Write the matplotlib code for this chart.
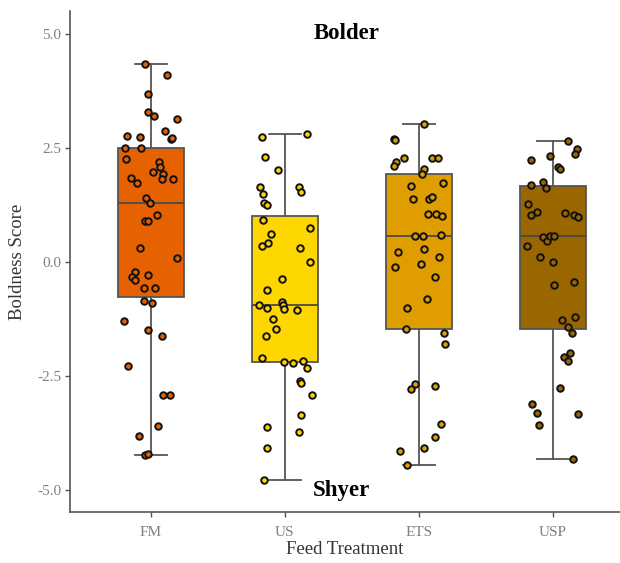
import matplotlib
matplotlib.use("Agg")
import matplotlib.pyplot as plt
import numpy as np

# feed treatments and colours
groups = ["FM", "US", "ETS", "USP"]
colors = ["#E66100", "#FFD700", "#DF9D00", "#996600"]

# box statistics (q1, median, q3, lower / upper whisker)
q1 = [-0.78, -2.21, -1.48, -1.48]
med = [1.29, -0.96, 0.57, 0.55]
q3 = [2.50, 1.01, 1.93, 1.65]
whis_lo = [-4.25, -4.78, -4.47, -4.33]
whis_hi = [4.34, 2.79, 3.02, 2.65]

# individual boldness scores + horizontal jitter as seen in the figure
fm = [4.34, 4.09, 3.68, 3.29, 3.19, 3.12, 2.87, 2.75, 2.74, 2.69, 2.70, 2.50,
      2.50, 2.26, 2.19, 2.07, 1.96, 1.92, 1.81, 1.81, 1.84, 1.73, 1.40, 1.29,
      1.03, 0.88, 0.88, 0.29, 0.07, -0.22, -0.33, -0.29, -0.40, -0.58, -0.59,
      -0.86, -0.90, -1.31, -1.51, -1.64, -2.29, -2.93, -2.93, -3.61, -3.82,
      -4.25, -4.22]
fm_jit = [-0.044, 0.118, -0.021, -0.024, 0.024, 0.195, 0.106, -0.177, -0.077,
          0.147, 0.159, -0.189, -0.071, -0.186, 0.059, 0.071, 0.018, 0.088,
          0.080, 0.165, -0.148, -0.100, -0.038, -0.009, 0.047, -0.044, -0.021,
          -0.083, 0.192, -0.118, -0.139, -0.021, -0.115, -0.050, 0.032,
          -0.050, 0.012, -0.201, -0.024, 0.086, -0.168, 0.088, 0.142, 0.050,
          -0.088, -0.041, -0.021]

us = [2.79, 2.74, 2.30, 2.00, 1.63, 1.64, 1.48, 1.53, 1.28, 1.25, 0.91, 0.74,
      0.60, 0.41, 0.35, 0.30, 0.00, -0.39, -0.62, -0.96, -1.01, -0.89, -0.96,
      -1.04, -1.07, -1.27, -1.47, -1.64, -2.12, -2.21, -2.22, -2.17, -2.34,
      -2.61, -2.67, -2.93, -3.36, -3.62, -3.74, -4.08, -4.78]
us_jit = [0.165, -0.174, -0.147, -0.053, -0.189, 0.106, -0.162, 0.118, -0.153,
          -0.133, -0.165, 0.186, -0.106, -0.127, -0.174, 0.112, 0.189, -0.018,
          -0.136, -0.192, -0.130, -0.018, -0.012, -0.006, 0.091, -0.091,
          -0.068, -0.142, -0.174, -0.006, 0.059, 0.136, 0.168, 0.115, 0.124,
          0.201, 0.118, -0.133, 0.109, -0.136, -0.159]

ets = [3.02, 2.68, 2.67, 2.27, 2.27, 2.28, 2.18, 2.09, 2.02, 1.91, 1.65, 1.72,
       1.38, 1.37, 1.42, 1.05, 1.05, 1.01, 0.57, 0.55, 0.58, 0.22, 0.27, 0.09,
       -0.11, -0.05, -0.33, -0.82, -1.01, -1.47, -1.57, -1.81, -2.69, -2.80,
       -2.72, -3.56, -3.84, -4.08, -4.16, -4.47]
ets_jit = [0.040, -0.184, -0.175, -0.110, 0.095, 0.140, -0.172, -0.184, 0.040,
           0.025, -0.062, 0.181, -0.043, 0.072, 0.095, 0.065, 0.127, 0.169,
           -0.032, 0.032, 0.164, -0.154, 0.040, 0.147, -0.177, 0.013, 0.119,
           0.057, -0.090, -0.099, 0.189, 0.196, -0.028, -0.062, 0.117, 0.164,
           0.117, 0.040, -0.142, -0.087]

usp = [2.65, 2.47, 2.36, 2.32, 2.22, 2.08, 2.02, 1.75, 1.62, 1.69, 1.27, 1.09,
       1.02, 1.07, 1.02, 0.98, 0.54, 0.45, 0.55, 0.57, 0.35, 0.11, 0.00, -0.44,
       -0.51, -1.29, -1.22, -1.43, -1.56, -2.00, -2.09, -2.17, -2.78, -3.12,
       -3.33, -3.35, -3.59, -4.33]
usp_jit = [0.111, 0.178, 0.166, -0.025, -0.162, 0.037, 0.054, -0.072, -0.055,
           -0.162, -0.187, -0.122, -0.167, 0.092, 0.156, 0.186, -0.075, -0.043,
           -0.023, 0.007, -0.197, -0.095, 0.002, 0.156, 0.007, 0.066, 0.161,
           0.114, 0.141, 0.124, 0.081, 0.111, 0.049, -0.160, -0.120, 0.184,
           -0.105, 0.149]

scores = [fm, us, ets, usp]
jitter = [fm_jit, us_jit, ets_jit, usp_jit]

plt.rcParams['font.family'] = ['Liberation Serif', 'DejaVu Serif']

fig = plt.figure(figsize=(6.2, 5.63), dpi=100)
ax = fig.add_axes([0.1135, 0.0899, 0.8865, 0.891])

stats = []
for i, g in enumerate(groups):
    stats.append(dict(label=g, q1=q1[i], med=med[i], q3=q3[i],
                      whislo=whis_lo[i], whishi=whis_hi[i], fliers=[]))

edge = "#555555"
bp = ax.bxp(stats, positions=range(len(groups)), widths=0.49,
            patch_artist=True, showfliers=False,
            boxprops=dict(edgecolor=edge, linewidth=1.3),
            whiskerprops=dict(color=edge, linewidth=1.3),
            capprops=dict(color=edge, linewidth=1.3),
            medianprops=dict(color="#4a4a4a", linewidth=1.3),
            capwidths=0.24)
for patch, c in zip(bp['boxes'], colors):
    patch.set_facecolor(c)

# jittered points on top of the boxes
for i in range(len(groups)):
    x = i + np.array(jitter[i])
    ax.scatter(x, scores[i], s=22, facecolor=colors[i], edgecolor="#111111",
               linewidths=1.4, zorder=3)

ax.text(1.46, 5.0, "Bolder", ha="center", va="center", fontsize=16.5,
        fontweight="bold")
ax.text(1.42, -5.03, "Shyer", ha="center", va="center", fontsize=16.5,
        fontweight="bold")

ax.set_xlim(-0.6, 3.5)
ax.set_ylim(-5.5, 5.5)
ax.set_xticks(range(len(groups)))
ax.set_xticklabels(groups)
ax.set_yticks([-5.0, -2.5, 0.0, 2.5, 5.0])
ax.set_yticklabels(["-5.0", "-2.5", "0.0", "2.5", "5.0"])

for s in ["top", "right"]:
    ax.spines[s].set_visible(False)
for s in ["left", "bottom"]:
    ax.spines[s].set_color("#555555")
    ax.spines[s].set_linewidth(1.2)

ax.tick_params(axis="both", colors="#555555", labelcolor="#808080",
               labelsize=11, length=3.5, width=1.0, pad=3)
ax.tick_params(axis="x", pad=6)

ax.set_xlabel("Feed Treatment", fontsize=13.5, color="#333333", labelpad=2)
ax.set_ylabel("Boldness Score", fontsize=13.5, color="#333333", labelpad=8)

fig.savefig("out.png", dpi=100)
